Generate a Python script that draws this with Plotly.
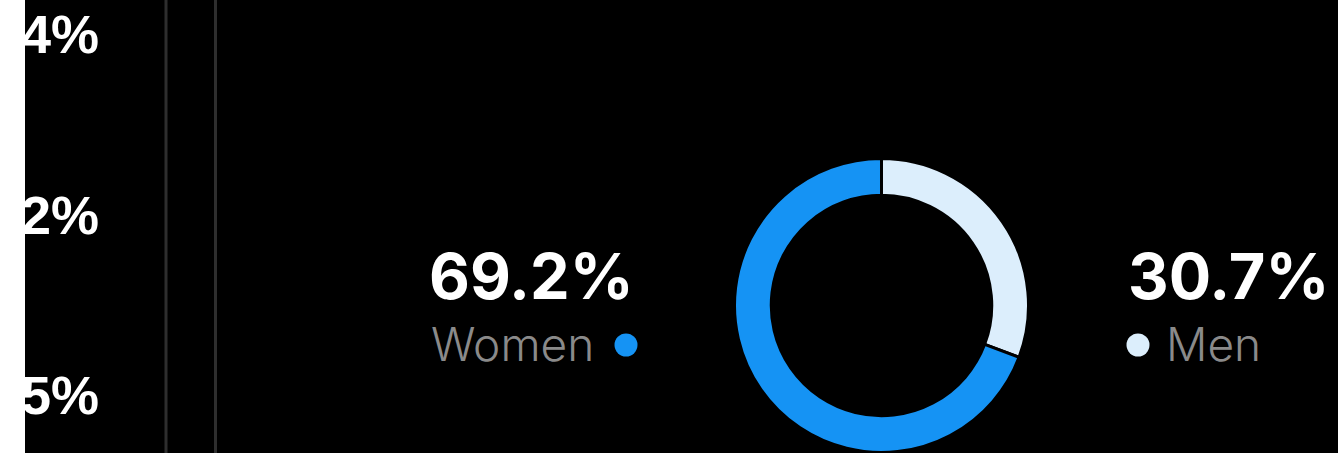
import plotly.graph_objects as go

W, H = 1338, 453

labels = ["Men", "Women"]
values = [30.7, 69.2]
colors = ["#DCEEFC", "#1593F4"]
axis_labels = ["4%", "2%", "5%"]
axis_label_y = [34, 215, 395]

def px(x):
    return x / W

def py(y):
    return 1 - y / H

cx, cy, r = 881.5, 305.5, 147

fig = go.Figure()
fig.add_trace(go.Pie(
    labels=labels, values=values, sort=False, direction="clockwise", rotation=0,
    hole=0.75, marker=dict(colors=colors, line=dict(color="#000000", width=3)),
    textinfo="none", hoverinfo="label+percent", showlegend=False,
    domain=dict(x=[px(cx - r), px(cx + r)], y=[py(cy + r), py(cy - r)]),
))

ann = []
for t, y in zip(axis_labels, axis_label_y):
    ann.append(dict(text=t, x=px(101), y=py(y), xref="paper", yref="paper",
                    xanchor="right", yanchor="middle", showarrow=False,
                    font=dict(family="Liberation Sans", size=54, color="#ffffff", weight=700)))

pct = {lab: f"{v:.1f}%" for lab, v in zip(labels, values)}
ann.append(dict(text=pct["Women"], x=px(636), y=py(276), xref="paper", yref="paper",
                xanchor="right", yanchor="middle", showarrow=False,
                font=dict(family="Inter", size=63, color="#ffffff", weight=700)))
ann.append(dict(text="Women", x=px(596), y=py(344), xref="paper", yref="paper",
                xanchor="right", yanchor="middle", showarrow=False,
                font=dict(family="Inter", size=46, color="#8a8a8a", weight=300)))
ann.append(dict(text=pct["Men"], x=px(1126), y=py(276), xref="paper", yref="paper",
                xanchor="left", yanchor="middle", showarrow=False,
                font=dict(family="Inter", size=63, color="#ffffff", weight=700)))
ann.append(dict(text="Men", x=px(1164), y=py(344), xref="paper", yref="paper",
                xanchor="left", yanchor="middle", showarrow=False,
                font=dict(family="Inter", size=46, color="#8a8a8a", weight=300)))

shapes = [
    dict(type="rect", xref="paper", yref="paper", x0=0, x1=px(25), y0=0, y1=1,
         fillcolor="#ffffff", line=dict(width=0), layer="below"),
    dict(type="line", xref="paper", yref="paper", x0=px(166), x1=px(166), y0=0, y1=1,
         line=dict(color="#2e2e2e", width=3)),
    dict(type="line", xref="paper", yref="paper", x0=px(215.5), x1=px(215.5), y0=0, y1=1,
         line=dict(color="#2e2e2e", width=3)),
]
dr = 11.5
for (dx, dy), c in [((626, 345), colors[1]), ((1138, 345), colors[0])]:
    shapes.append(dict(type="circle", xref="paper", yref="paper",
                       x0=px(dx - dr), x1=px(dx + dr), y0=py(dy + dr), y1=py(dy - dr),
                       fillcolor=c, line=dict(width=0)))

fig.update_layout(
    width=W, height=H, margin=dict(l=0, r=0, t=0, b=0),
    paper_bgcolor="#000000", plot_bgcolor="#000000",
    annotations=ann, shapes=shapes,
)
fig.write_html("out.html", config={"displayModeBar": False})
